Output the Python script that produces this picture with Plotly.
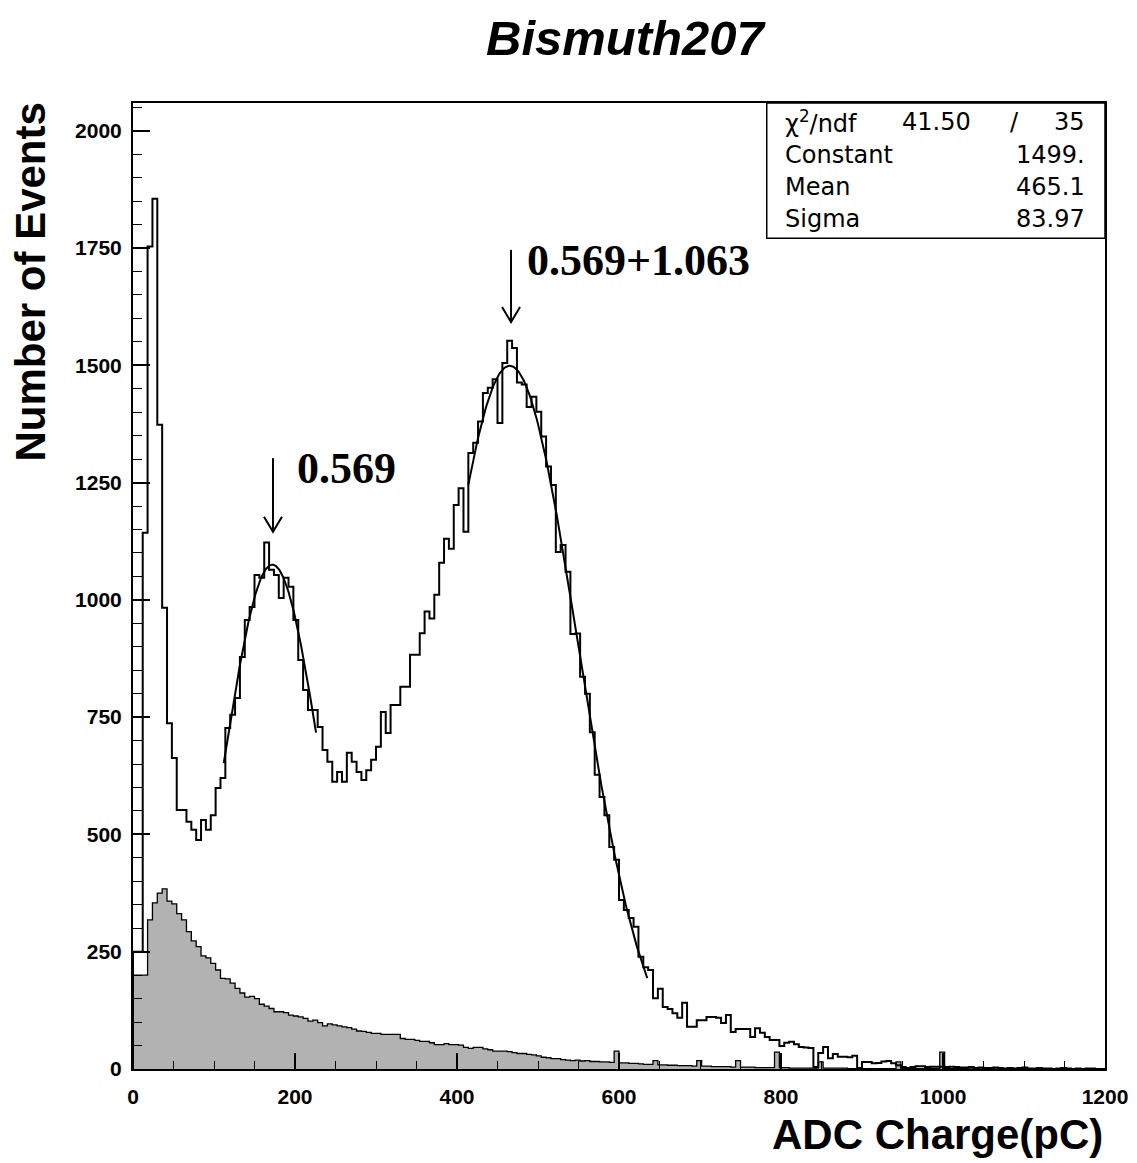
import numpy as np
import plotly.graph_objects as go

# ---------------- data ----------------
BIN_WIDTH = 6  # pC per bin, 200 bins over 0-1200

signal_counts = [
    250, 250, 1143, 1753, 1855, 1373, 983, 737, 663, 552,
    552, 527, 510, 488, 531, 510, 541, 599, 620, 727,
    755, 791, 878, 957, 985, 1053, 1047, 1122, 1064, 1053,
    1004, 1047, 1028, 957, 872, 808, 765, 765, 729, 680,
    655, 612, 633, 612, 674, 655, 633, 616, 637, 659,
    687, 761, 716, 776, 776, 815, 815, 883, 883, 929,
    975, 960, 1011, 1079, 1130, 1109, 1202, 1238, 1145, 1313,
    1335, 1380, 1441, 1452, 1470, 1377, 1505, 1552, 1537, 1463,
    1459, 1411, 1433, 1401, 1348, 1284, 1245, 1102, 1117, 1060,
    927, 928, 836, 800, 718, 627, 580, 541, 473, 446,
    360, 339, 322, 303, 239, 217, 211, 151, 171, 132,
    128, 119, 109, 141, 90, 90, 104, 104, 111, 111,
    109, 98, 115, 79, 85, 85, 85, 68, 87, 77,
    68, 62, 62, 49, 56, 58, 53, 47, 46, 45,
    4, 34, 47, 23, 32, 26, 26, 25, 28, 2,
    15, 15, 12, 13, 16, 17, 12, 8, 4, 2,
    4, 6, 6, 4, 5, 5, 5, 4, 5, 4,
    3, 3, 4, 2, 3, 2, 2, 3, 2, 1,
    2, 1, 2, 3, 1, 1, 2, 1, 1, 0,
    1, 2, 1, 0, 1, 0, 1, 1, 0, 0,
]

background_counts = [
    200, 200, 200, 318, 354, 375, 384, 358, 352, 331,
    318, 293, 273, 261, 241, 237, 225, 211, 193, 192,
    183, 172, 162, 153, 155, 150, 138, 134, 129, 122,
    122, 120, 115, 113, 111, 108, 102, 104, 99, 92,
    96, 94, 92, 90, 88, 85, 81, 80, 78, 76,
    76, 74, 74, 74, 74, 65, 63, 63, 61, 59,
    59, 56, 52, 52, 54, 52, 52, 51, 46, 44,
    46, 46, 43, 41, 38, 38, 38, 37, 35, 33,
    33, 31, 30, 28, 25, 24, 22, 22, 20, 19,
    18, 19, 17, 18, 16, 16, 15, 15, 14, 38,
    13, 13, 12, 12, 11, 10, 10, 18, 9, 9,
    8, 8, 7, 7, 7, 6, 18, 6, 6, 5,
    5, 5, 5, 4, 18, 4, 4, 4, 3, 3,
    3, 3, 36, 3, 3, 2, 2, 2, 2, 2,
    2, 15, 2, 2, 2, 2, 2, 1, 1, 1,
    1, 1, 1, 1, 1, 1, 1, 15, 1, 1,
    1, 1, 1, 1, 1, 1, 36, 1, 1, 1,
    1, 1, 0, 1, 0, 1, 0, 0, 1, 0,
    0, 0, 0, 0, 0, 0, 0, 0, 0, 0,
    0, 0, 0, 0, 0, 0, 0, 0, 0, 0,
]

# Gaussian fit results (second peak, from stats box) and first-peak fit
fit2_params = {"Constant": 1499.0, "Mean": 465.1, "Sigma": 83.97}
fit2_range = [414, 635]
fit1_params = {"Constant": 1075.0, "Mean": 172.0, "Sigma": 60.0}
fit1_range = [112, 226]

stats_labels = ["Constant", "Mean", "Sigma"]
stats_values = ["1499.", "465.1", "83.97"]
chi2_value = "41.50"
ndf_value = "35"

peak_labels = ["0.569", "0.569+1.063"]
peak_positions = [172.8, 466.7]
arrow_tail = [1302, 1746]
arrow_head = [1145, 1592]
label_pos = [(200, 1281), (484, 1724)]

# ---------------- helpers ----------------
edges = np.arange(len(signal_counts) + 1) * BIN_WIDTH


def step_xy(counts):
    xs = [edges[0]] + list(edges[:-1]) + [edges[-1], edges[-1]]
    ys = [0] + list(counts) + [counts[-1], 0]
    return xs, ys


def gauss_curve(p, rng):
    xs = np.linspace(rng[0], rng[1], 200)
    ys = p["Constant"] * np.exp(-0.5 * ((xs - p["Mean"]) / p["Sigma"]) ** 2)
    return xs, ys


fig = go.Figure()

bx, by = step_xy(background_counts)
fig.add_trace(go.Scatter(x=bx, y=by, mode="lines", line=dict(shape="hv", color="black", width=1.3),
                         fill="tozeroy", fillcolor="#b2b2b2", hoverinfo="skip", showlegend=False))

sx, sy = step_xy(signal_counts)
fig.add_trace(go.Scatter(x=sx, y=sy, mode="lines", line=dict(shape="hv", color="black", width=2),
                         hoverinfo="skip", showlegend=False))

for p, r in [(fit1_params, fit1_range), (fit2_params, fit2_range)]:
    gx, gy = gauss_curve(p, r)
    fig.add_trace(go.Scatter(x=gx, y=gy, mode="lines", line=dict(color="black", width=2),
                             hoverinfo="skip", showlegend=False))

shapes = []
annotations = []

# arrows
for xp, yt, yh in zip(peak_positions, arrow_tail, arrow_head):
    shapes.append(dict(type="line", xref="x", yref="y", x0=xp, x1=xp, y0=yt, y1=yh,
                       line=dict(color="black", width=2)))
    shapes.append(dict(type="path", xref="x", yref="y", xsizemode="pixel", ysizemode="pixel",
                       xanchor=xp, yanchor=yh, path="M -9,15 L 0,0 L 9,15",
                       line=dict(color="black", width=2)))

for txt, (lx, ly) in zip(peak_labels, label_pos):
    annotations.append(dict(x=lx, y=ly, xref="x", yref="y", text="<b>" + txt + "</b>", showarrow=False,
                            xanchor="left", yanchor="middle",
                            font=dict(family="Liberation Serif", size=44, color="black")))

# stats box
shapes.append(dict(type="rect", xref="paper", yref="paper", x0=0.652, x1=1.0, y0=0.860, y1=1.0,
                   line=dict(color="black", width=1.5), fillcolor="white", layer="above"))
row_y = [0.9803, 0.9462, 0.9130, 0.8799]
sfont = dict(family="DejaVu Sans", size=24, color="black")
annotations.append(dict(x=0.6687, y=row_y[0], xref="paper", yref="paper", text="χ<sup>2</sup>/ndf",
                        showarrow=False, xanchor="left", yanchor="middle", font=sfont))
annotations.append(dict(x=0.8642, y=row_y[0], xref="paper", yref="paper", text=chi2_value,
                        showarrow=False, xanchor="right", yanchor="middle", font=sfont))
annotations.append(dict(x=0.9074, y=row_y[0], xref="paper", yref="paper", text="/",
                        showarrow=False, xanchor="center", yanchor="middle", font=sfont))
annotations.append(dict(x=0.9815, y=row_y[0], xref="paper", yref="paper", text=ndf_value,
                        showarrow=False, xanchor="right", yanchor="middle", font=sfont))
for lab, val, yy in zip(stats_labels, stats_values, row_y[1:]):
    annotations.append(dict(x=0.6687, y=yy, xref="paper", yref="paper", text=lab,
                            showarrow=False, xanchor="left", yanchor="middle", font=sfont))
    annotations.append(dict(x=0.9815, y=yy, xref="paper", yref="paper", text=val,
                            showarrow=False, xanchor="right", yanchor="middle", font=sfont))

# titles
annotations.append(dict(x=0.508, y=1.067, xref="paper", yref="paper", text="<b><i>Bismuth207</i></b>",
                        showarrow=False, xanchor="center", yanchor="middle",
                        font=dict(family="Liberation Sans", size=49, color="black")))
annotations.append(dict(x=-0.105, y=1.003, xref="paper", yref="paper", text="<b>Number of Events</b>",
                        showarrow=False, xanchor="center", yanchor="top", textangle=-90,
                        font=dict(family="Liberation Sans", size=42, color="black")))
annotations.append(dict(x=1.0, y=-0.068, xref="paper", yref="paper", text="<b>ADC Charge(pC)</b>",
                        showarrow=False, xanchor="right", yanchor="middle",
                        font=dict(family="Liberation Sans", size=42, color="black")))

tickfont = dict(family="Liberation Sans", size=21, color="black", weight="bold")
fig.update_layout(
    width=1137, height=1163,
    margin=dict(l=133, r=32, t=103, b=94, autoexpand=False),
    paper_bgcolor="white", plot_bgcolor="white",
    shapes=shapes, annotations=annotations,
    xaxis=dict(range=[0, 1200], showline=True, linewidth=2, linecolor="black", mirror=True,
               ticks="inside", ticklen=16, tickwidth=1.5, tickcolor="black", dtick=200, tick0=0,
               minor=dict(ticks="inside", ticklen=8, dtick=50, tickcolor="black", tickwidth=1),
               showgrid=False, zeroline=False, tickfont=tickfont, ticklabelstandoff=8,
               automargin=False),
    yaxis=dict(range=[0, 2059], showline=True, linewidth=2, linecolor="black", mirror=True,
               ticks="inside", ticklen=17, tickwidth=1.5, tickcolor="black", dtick=250, tick0=0,
               minor=dict(ticks="inside", ticklen=9, dtick=50, tickcolor="black", tickwidth=1),
               showgrid=False, zeroline=False, tickfont=tickfont, ticklabelstandoff=5,
               automargin=False),
)

fig.write_html("out.html")
